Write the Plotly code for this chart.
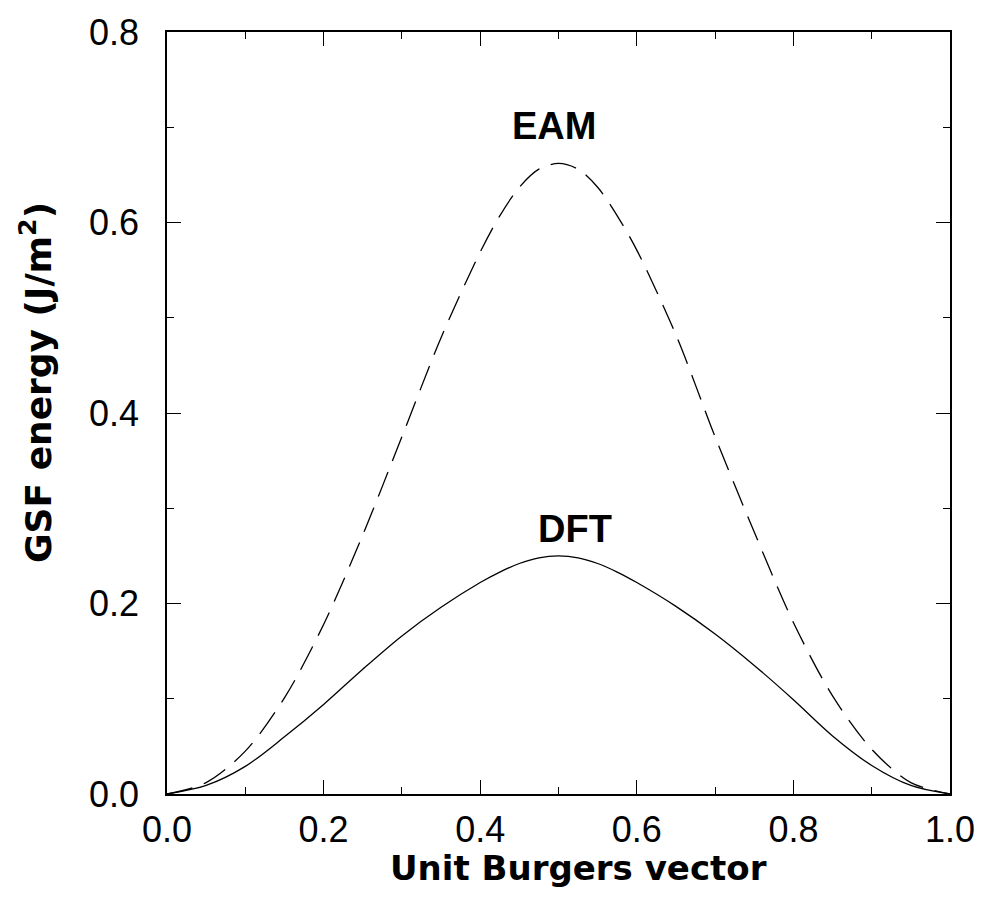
import plotly.graph_objects as go

# Generalized stacking-fault energy along the unit Burgers vector
burgers = [0.0, 0.05, 0.10, 0.15, 0.20, 0.25, 0.30, 0.35, 0.40, 0.425, 0.45, 0.475, 0.50,
           0.525, 0.55, 0.575, 0.60, 0.65, 0.70, 0.75, 0.80, 0.85, 0.90, 0.95, 1.0]
gsf_eam = [0.0, 0.012, 0.045, 0.101, 0.178, 0.272, 0.375, 0.479, 0.569, 0.607, 0.637, 0.656, 0.662,
           0.656, 0.637, 0.607, 0.571, 0.482, 0.375, 0.275, 0.180, 0.103, 0.047, 0.012, 0.0]
gsf_dft = [0.0, 0.009, 0.029, 0.060, 0.094, 0.131, 0.166, 0.196, 0.222, 0.233, 0.242, 0.248, 0.250,
           0.248, 0.242, 0.233, 0.222, 0.197, 0.168, 0.135, 0.099, 0.061, 0.030, 0.009, 0.0]

x_ticks = [0.0, 0.2, 0.4, 0.6, 0.8, 1.0]
y_ticks = [0.0, 0.2, 0.4, 0.6, 0.8]

FONT = "Liberation Sans, Arial, Helvetica, sans-serif"
TITLE_FONT = "DejaVu Sans, Liberation Sans, Arial, sans-serif"

fig = go.Figure()
fig.add_trace(go.Scatter(
    x=burgers, y=gsf_eam, mode="lines", name="EAM",
    line=dict(color="black", width=1.3, dash="26px,12px", shape="spline", smoothing=0.9),
))
fig.add_trace(go.Scatter(
    x=burgers, y=gsf_dft, mode="lines", name="DFT",
    line=dict(color="black", width=1.3, shape="spline", smoothing=0.9),
))

axis_common = dict(
    showgrid=False, zeroline=False, showline=True, linecolor="black", linewidth=1.5,
    mirror="ticks", ticks="inside", ticklen=14, tickwidth=1.3, tickcolor="black",
    tickformat=".1f", tickfont=dict(family=FONT, size=36, color="black"),
    minor=dict(ticks="inside", ticklen=7, tickwidth=1.3, tickcolor="black", showgrid=False),
)

fig.update_xaxes(range=[0, 1], tickvals=x_ticks, minor_dtick=0.1,
                 ticklabelstandoff=3, **axis_common)
fig.update_yaxes(range=[0, 0.8], tickvals=y_ticks, minor_dtick=0.1,
                 ticklabelstandoff=19, **axis_common)

fig.add_annotation(x=0.494, y=0.701, xref="x", yref="y", text="<b>EAM</b>",
                   showarrow=False, font=dict(family=FONT, size=38, color="black"))
fig.add_annotation(x=0.521, y=0.278, xref="x", yref="y", text="<b>DFT</b>",
                   showarrow=False, font=dict(family=FONT, size=38, color="black"))

fig.add_annotation(x=0.525, y=-0.097, xref="paper", yref="paper",
                   text="<b>Unit Burgers vector</b>", showarrow=False,
                   xanchor="center", yanchor="middle",
                   font=dict(family=TITLE_FONT, size=34, color="black"))
fig.add_annotation(x=-0.168, y=0.54, xref="paper", yref="paper",
                   text="<b>GSF energy (J/m<sup>2</sup>)</b>", showarrow=False,
                   textangle=-90, xanchor="center", yanchor="middle",
                   font=dict(family=TITLE_FONT, size=36, color="black"))

fig.update_layout(
    width=987, height=905,
    margin=dict(l=167, r=35, t=27, b=111),
    paper_bgcolor="white", plot_bgcolor="white",
    showlegend=False,
)

fig.write_html("out.html")
